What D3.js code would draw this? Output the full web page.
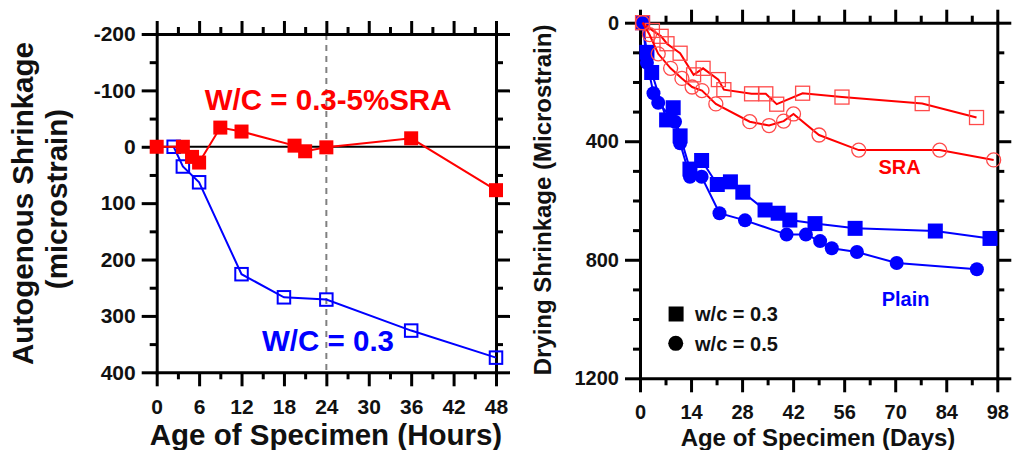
<!DOCTYPE html>
<html>
<head>
<meta charset="utf-8">
<script src="https://cdn.jsdelivr.net/npm/d3@7"></script>
<style>
  body { margin: 0; background: #fff; }
  svg { display: block; font-family: "Liberation Sans", Arial, sans-serif; }
  .axis path, .axis line { stroke: #000; stroke-width: 3; }
  .axis path { stroke-linecap: square; }
  .axis text { font-weight: bold; fill: #111; }
  .title { font-weight: bold; fill: #111; }
</style>
</head>
<body>
<svg id="chart" width="1012" height="450"></svg>
<script>
// left panel: autogenous shrinkage, hours
const hoursSRA = [0, 3.7, 5, 6, 9, 12, 19.5, 21, 24, 36, 48];
const autoSRA = [0, 0, 18, 28, -34, -27, -2, 8, 1, -15, 77];
const hoursPlain = [2.4, 3.7, 6, 12, 18, 24, 36, 48];
const autoPlain = [0, 35, 63, 226, 267, 271, 326, 374];

const hourTicks = [0, 6, 12, 18, 24, 30, 36, 42, 48];
const autoTicks = [-200, -100, 0, 100, 200, 300, 400];

// right panel: drying shrinkage, days
const daysPlain03 = [0.7, 1.9, 3.2, 7.3, 9.1, 11, 13.7, 16.9, 21.2, 24.8, 28.2, 34.3, 37.9, 41.1, 48, 59, 81, 96];
const dryPlain03 = [0, 100, 168, 328, 287, 382, 494, 465, 546, 537, 572, 632, 643, 666, 678, 694, 703, 728];
const daysPlain05 = [0.7, 1.9, 3.7, 5, 9.6, 11, 13.7, 16.9, 21.8, 28.8, 40.2, 45.5, 49.4, 52.6, 59.5, 70.4, 92.4];
const dryPlain05 = [0, 135, 238, 270, 334, 407, 520, 520, 643, 667, 715, 715, 737, 761, 774, 811, 832];
const daysSRA03 = [0.7, 3.4, 5.8, 7.4, 11, 14.7, 17.3, 21.5, 23, 30.6, 34.5, 37.5, 44.6, 55.4, 77.4, 92.3];
const drySRA03 = [0, 26, 46, 71, 103, 176, 154, 192, 226, 240, 240, 275, 238, 251, 273, 320];
const daysSRA05 = [0.7, 2.6, 5, 8.4, 11.5, 14.3, 17, 20.8, 30.1, 35.4, 39.4, 42.1, 49.1, 60, 82.2, 97];
const drySRA05 = [0, 40, 105, 154, 188, 217, 229, 274, 334, 347, 332, 308, 379, 430, 430, 463];

const dayTicks = [0, 14, 28, 42, 56, 70, 84, 98];
const dryTicks = [0, 400, 800, 1200];

const svg = d3.select('#chart');

const xL = d3.scaleLinear().domain([0, 48]).range([156.7, 496]);
const yL = d3.scaleLinear().domain([-200, 400]).range([34, 372.3]);
const xR = d3.scaleLinear().domain([0, 98]).range([640, 997.3]);
const yR = d3.scaleLinear().domain([0, 1200]).range([22.7, 378.3]);

function drawFrame(x, y, o) {
  const [x0, x1] = x.range();
  const [y0, y1] = y.range();
  const xMinor = d3.range(x.domain()[0], x.domain()[1] + 0.01, o.xStep).filter((d) => !o.xMajor.includes(d));
  const yMinor = d3.range(y.domain()[0], y.domain()[1] + 0.01, o.yStep).filter((d) => !o.yMajor.includes(d));
  const fmt = (d) => String(d);

  const g = svg.append('g').attr('class', 'axis');

  // labelled axes
  g.append('g')
    .attr('transform', `translate(0,${y1})`)
    .call(d3.axisBottom(x).tickValues(o.xMajor).tickSize(14).tickSizeOuter(0).tickPadding(13).tickFormat(fmt))
    .call((a) => a.selectAll('text').style('font-size', o.font + 'px'));
  g.append('g')
    .attr('transform', `translate(${x0},0)`)
    .call(d3.axisLeft(y).tickValues(o.yMajor).tickSize(15).tickSizeOuter(0).tickPadding(6).tickFormat(fmt))
    .call((a) => a.selectAll('text').style('font-size', o.font + 'px'));
  g.append('g')
    .attr('transform', `translate(0,${y0})`)
    .call(d3.axisTop(x).tickValues(o.xMajor).tickSize(13).tickSizeOuter(0).tickFormat(''));
  g.append('g')
    .attr('transform', `translate(${x1},0)`)
    .call(d3.axisRight(y).tickValues(o.yMajor).tickSize(14).tickSizeOuter(0).tickFormat(''));

  // minor ticks
  const minor = [
    [d3.axisBottom(x).tickValues(xMinor), `translate(0,${y1})`],
    [d3.axisTop(x).tickValues(xMinor), `translate(0,${y0})`],
    [d3.axisLeft(y).tickValues(yMinor), `translate(${x0},0)`],
    [d3.axisRight(y).tickValues(yMinor), `translate(${x1},0)`],
  ];
  minor.forEach(([ax, tr]) => {
    g.append('g')
      .attr('transform', tr)
      .call(ax.tickSize(7).tickSizeOuter(0).tickFormat(''))
      .call((a) => a.select('.domain').remove());
  });
}

function drawSeries(xs, ys, x, y, opt) {
  const pts = xs.map((d, i) => [d, ys[i]]);
  const g = svg.append('g');
  g.append('path')
    .datum(pts)
    .attr('fill', 'none')
    .attr('stroke', opt.color)
    .attr('stroke-width', opt.lineWidth || 2)
    .attr('d', d3.line().x((d) => x(d[0])).y((d) => y(d[1])));

  const s = opt.size;
  if (opt.shape === 'square') {
    g.selectAll('rect')
      .data(pts)
      .join('rect')
      .attr('x', (d) => x(d[0]) - s / 2)
      .attr('y', (d) => y(d[1]) - s / 2)
      .attr('width', s)
      .attr('height', s)
      .attr('fill', opt.filled ? opt.color : 'none')
      .attr('stroke', opt.filled ? 'none' : opt.strokeColor || opt.color)
      .attr('stroke-width', opt.strokeWidth || 0);
  } else {
    g.selectAll('circle')
      .data(pts)
      .join('circle')
      .attr('cx', (d) => x(d[0]))
      .attr('cy', (d) => y(d[1]))
      .attr('r', s / 2)
      .attr('fill', opt.filled ? opt.color : 'none')
      .attr('stroke', opt.filled ? 'none' : opt.strokeColor || opt.color)
      .attr('stroke-width', opt.strokeWidth || 0);
  }
}

// ---- left panel ----
svg.append('line')
  .attr('x1', xL(24)).attr('x2', xL(24))
  .attr('y1', yL(-200)).attr('y2', yL(400))
  .attr('stroke', '#808080').attr('stroke-width', 2)
  .attr('stroke-dasharray', '6,5');

svg.append('line')
  .attr('x1', xL(0)).attr('x2', xL(48))
  .attr('y1', yL(0)).attr('y2', yL(0))
  .attr('stroke', '#000').attr('stroke-width', 2);

drawFrame(xL, yL, { xMajor: hourTicks, xStep: 3, yMajor: autoTicks, yStep: 50, font: 21 });

drawSeries(hoursPlain, autoPlain, xL, yL, { color: '#0000ff', shape: 'square', size: 12.5, strokeWidth: 2 });
drawSeries(hoursSRA, autoSRA, xL, yL, { color: '#ff0000', shape: 'square', size: 14, filled: true });

svg.append('text').attr('class', 'title')
  .attr('x', xL(6.8)).attr('y', yL(-66))
  .style('font-size', '29.5px').style('fill', '#ff0000')
  .text('W/C = 0.3-5%SRA');
svg.append('text').attr('class', 'title')
  .attr('x', xL(14.9)).attr('y', yL(363))
  .style('font-size', '29.5px').style('fill', '#0000ff')
  .text('W/C = 0.3');

svg.append('text').attr('class', 'title')
  .attr('x', 326).attr('y', 445)
  .attr('text-anchor', 'middle')
  .style('font-size', '29.5px')
  .text('Age of Specimen (Hours)');
svg.append('text').attr('class', 'title')
  .attr('transform', 'translate(33,203.5) rotate(-90)')
  .attr('text-anchor', 'middle')
  .style('font-size', '29.5px')
  .text('Autogenous Shrinkage');
svg.append('text').attr('class', 'title')
  .attr('transform', 'translate(67,199) rotate(-90)')
  .attr('text-anchor', 'middle')
  .style('font-size', '29.5px')
  .text('(microstrain)');

// ---- right panel ----
drawFrame(xR, yR, { xMajor: dayTicks, xStep: 7, yMajor: dryTicks, yStep: 100, font: 20 });

drawSeries(daysPlain03, dryPlain03, xR, yR, { color: '#0000ff', shape: 'square', size: 15, filled: true });
drawSeries(daysPlain05, dryPlain05, xR, yR, { color: '#0000ff', shape: 'circle', size: 14, filled: true });
drawSeries(daysSRA03, drySRA03, xR, yR, { color: '#ff0000', shape: 'square', size: 14, strokeWidth: 1.3, strokeColor: '#ff4a4a' });
drawSeries(daysSRA05, drySRA05, xR, yR, { color: '#ff0000', shape: 'circle', size: 14, strokeWidth: 1.3, strokeColor: '#ff4a4a' });

svg.append('text').attr('class', 'title')
  .attr('x', xR(65.4)).attr('y', yR(510))
  .style('font-size', '20px').style('fill', '#ff0000')
  .text('SRA');
svg.append('text').attr('class', 'title')
  .attr('x', xR(66.3)).attr('y', yR(957))
  .style('font-size', '20px').style('fill', '#0000ff')
  .text('Plain');

// legend
svg.append('rect')
  .attr('x', xR(9.9) - 7.5).attr('y', yR(983) - 7.5)
  .attr('width', 15).attr('height', 15).attr('fill', '#000');
svg.append('circle')
  .attr('cx', xR(9.8)).attr('cy', yR(1082)).attr('r', 7.5).attr('fill', '#000');
svg.append('text').attr('class', 'title')
  .attr('x', xR(15.1)).attr('y', yR(1008))
  .style('font-size', '20px')
  .text('w/c = 0.3');
svg.append('text').attr('class', 'title')
  .attr('x', xR(15.1)).attr('y', yR(1107))
  .style('font-size', '20px')
  .text('w/c = 0.5');

svg.append('text').attr('class', 'title')
  .attr('x', 818).attr('y', 446)
  .attr('text-anchor', 'middle')
  .style('font-size', '24px')
  .text('Age of Specimen (Days)');
svg.append('text').attr('class', 'title')
  .attr('transform', 'translate(551,200) rotate(-90)')
  .attr('text-anchor', 'middle')
  .style('font-size', '24px')
  .text('Drying Shrinkage (Microstrain)');
</script>
</body>
</html>
